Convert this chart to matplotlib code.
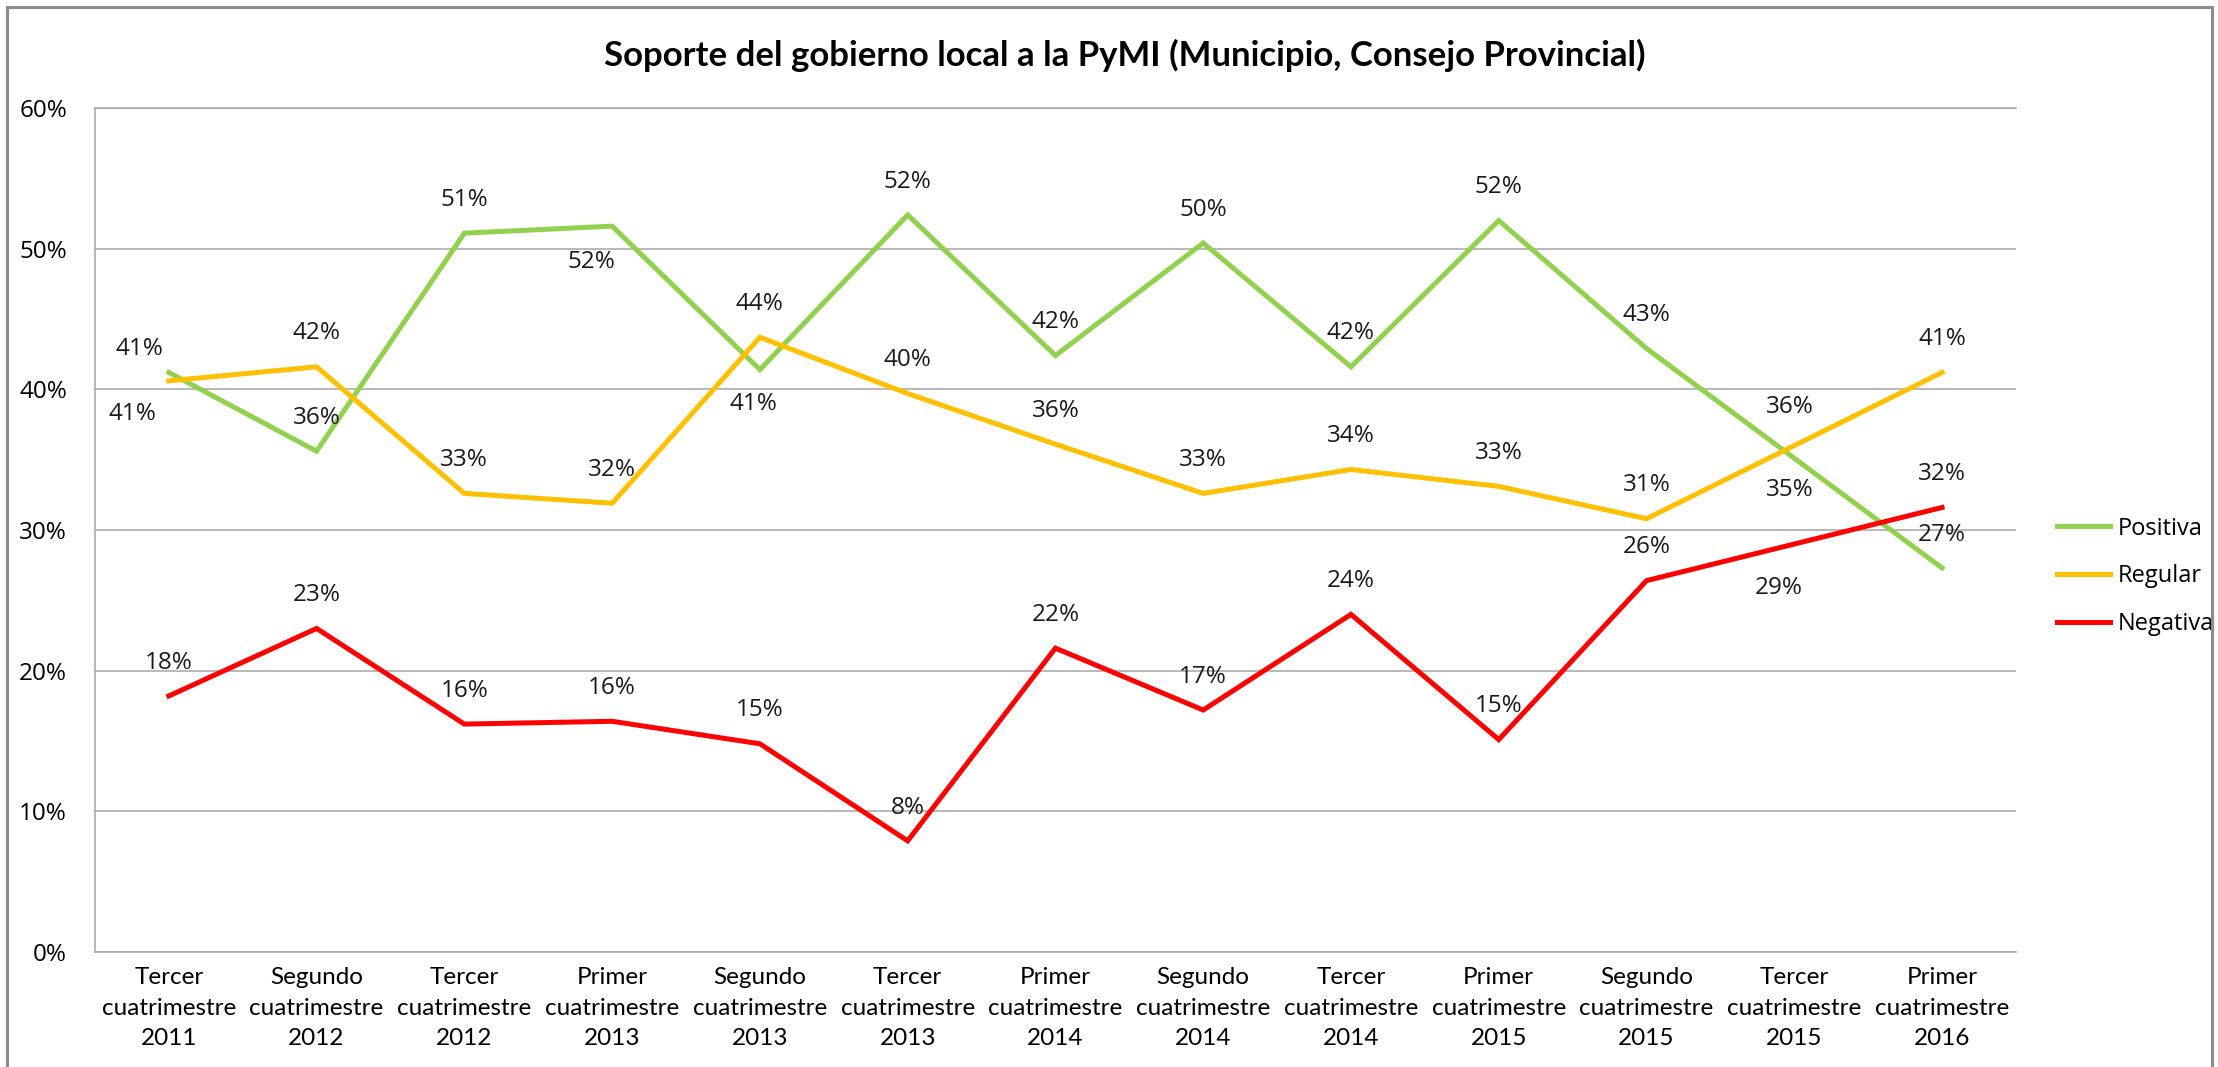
import matplotlib
matplotlib.use("Agg")
import matplotlib.pyplot as plt
from matplotlib.lines import Line2D
from matplotlib.patches import Rectangle
from matplotlib.ticker import FuncFormatter, MultipleLocator

plt.rcParams['font.family'] = ['Open Sans', 'DejaVu Sans']

periodos = ['Tercer\ncuatrimestre\n2011', 'Segundo\ncuatrimestre\n2012', 'Tercer\ncuatrimestre\n2012',
            'Primer\ncuatrimestre\n2013', 'Segundo\ncuatrimestre\n2013', 'Tercer\ncuatrimestre\n2013',
            'Primer\ncuatrimestre\n2014', 'Segundo\ncuatrimestre\n2014', 'Tercer\ncuatrimestre\n2014',
            'Primer\ncuatrimestre\n2015', 'Segundo\ncuatrimestre\n2015', 'Tercer\ncuatrimestre\n2015',
            'Primer\ncuatrimestre\n2016']

# porcentajes por periodo
positiva = [41.2, 35.6, 51.1, 51.6, 41.4, 52.4, 42.4, 50.4, 41.6, 52.0, 42.9, 35.1, 27.3]
regular = [40.6, 41.6, 32.6, 31.9, 43.7, 39.7, 36.1, 32.6, 34.3, 33.1, 30.8, 36.0, 41.2]
negativa = [18.2, 23.0, 16.2, 16.4, 14.8, 7.9, 21.6, 17.2, 24.0, 15.1, 26.4, 29.0, 31.6]

series = [('Positiva', positiva, '#92D050'),
          ('Regular', regular, '#FFC000'),
          ('Negativa', negativa, '#FF0000')]

# desplazamiento de etiquetas (puntos) que no van justo encima
ajustes = {('Positiva', 0): (-26, -30), ('Regular', 0): (-21, 23),
           ('Positiva', 3): (-15, -26), ('Positiva', 4): (-5, -25),
           ('Positiva', 11): (-3, -23), ('Regular', 11): (-3, 28),
           ('Negativa', 11): (-11, -32)}

fig = plt.figure(figsize=(22.18, 10.67), dpi=100)
ax = fig.add_axes([0.0428, 0.1078, 0.8661, 0.7910])

x = list(range(len(periodos)))
for nombre, valores, color in series:
    ax.plot(x, valores, color=color, lw=3.6, solid_joinstyle='miter', zorder=3)
    for i, v in enumerate(valores):
        dx, dy = ajustes.get((nombre, i), (0, 24))
        ax.annotate(f'{v:.0f}%', (i, v), xytext=(dx, dy), textcoords='offset points',
                    ha='center', va='center', fontsize=17.5, color='#1a1a1a', zorder=4)

ax.set_xlim(-0.5, len(periodos) - 0.5)
ax.set_ylim(0, 60)
ax.yaxis.set_major_locator(MultipleLocator(10))
ax.yaxis.set_major_formatter(FuncFormatter(lambda v, p: f'{v:.0f}%'))
ax.grid(axis='y', color='#A6A6A6', lw=1.1)
ax.set_axisbelow(True)
ax.set_xticks(x)
ax.set_xticklabels(periodos, family=['Lato', 'DejaVu Sans'], fontsize=17.5, linespacing=1.55)
ax.tick_params(axis='x', length=0, pad=11)
ax.tick_params(axis='y', length=0, pad=20, labelsize=17.5)
for s in ['left', 'bottom', 'top']:
    ax.spines[s].set_color('#A6A6A6')
    ax.spines[s].set_linewidth(1.1)
ax.spines['right'].set_visible(False)

fig.text(0.507, 0.948, 'Soporte del gobierno local a la PyMI (Municipio, Consejo Provincial)',
         ha='center', va='center', fontsize=25, fontweight='bold',
         family=['Lato', 'DejaVu Sans'])

handles = [Line2D([0], [0], color=c, lw=3.6) for _, _, c in series]
ax.legend(handles, [n for n, _, _ in series], loc='center left',
          bbox_to_anchor=(0.918, 0.46), bbox_transform=fig.transFigure,
          frameon=False, fontsize=17, handlelength=2.25, handletextpad=0.3,
          labelspacing=1.0)

fig.patches.append(Rectangle((0.0032, -0.02), 0.9941, 1.0134, transform=fig.transFigure,
                             fill=False, edgecolor='#8C8C8C', lw=2.2))

fig.savefig('out.png', dpi=100)
